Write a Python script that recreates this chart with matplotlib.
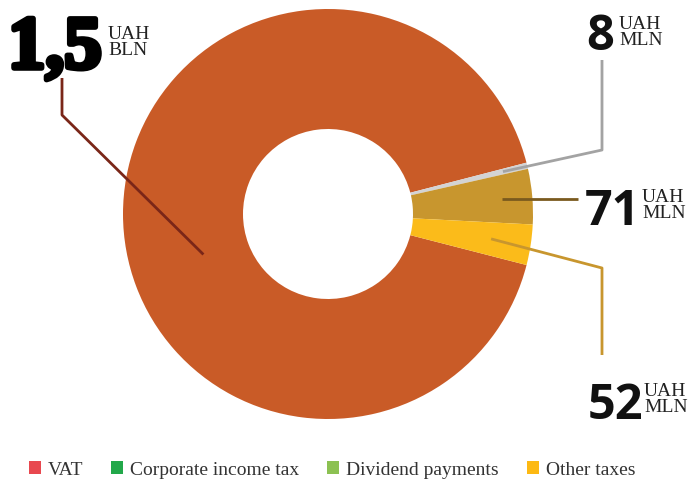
import numpy as np
import matplotlib
matplotlib.use("Agg")
import matplotlib.pyplot as plt
import matplotlib.patheffects as pe
from matplotlib.patches import Patch

# Tax payments, UAH million
slice_names = ["VAT", "Other (8)", "Other (71)", "Other (52)"]
slice_values = [1500, 8, 71, 52]
slice_colors = ["#c95b27", "#d3d3d3", "#c8962e", "#fbbb1a"]

value_labels = ["1,5", "8", "71", "52"]
unit_labels = ["UAH\nBLN", "UAH\nMLN", "UAH\nMLN", "UAH\nMLN"]
leader_colors = ["#7a2618", "#a3a3a3", "#7a5a1e", "#c8962e"]

legend_names = ["VAT", "Corporate income tax", "Dividend payments", "Other taxes"]
legend_colors = ["#e8484f", "#22a84a", "#8cc152", "#fdb913"]

W, H = 692, 482
fig = plt.figure(figsize=(W / 100, H / 100), dpi=100)
ax = fig.add_axes([0, 0, 1, 1])

cx, cy = 328, H - 214
R, r_in = 205, 85

total = sum(slice_values)
vat_angle = 360 * slice_values[0] / total
wedges, _ = ax.pie(slice_values, colors=slice_colors, startangle=14.5 + vat_angle,
                   counterclock=False, center=(cx, cy), radius=R,
                   wedgeprops=dict(width=R - r_in, linewidth=0))
ax.set_xlim(0, W)
ax.set_ylim(0, H)
ax.set_aspect("equal")
ax.axis("off")


def anchor(w, rad, ang=None):
    if ang is None:
        ang = (w.theta1 + w.theta2) / 2
    a = np.deg2rad(ang)
    return cx + rad * np.cos(a), cy + rad * np.sin(a)


def px(x, y):
    return x, H - y


lw = 2.0
# VAT leader
p0 = anchor(wedges[0], 131, 198)
xs, ys = zip(p0, px(62, 115), px(62, 78))
ax.plot(xs, ys, color=leader_colors[0], lw=lw, solid_capstyle="butt")
# 8
p1 = anchor(wedges[1], 180)
xs, ys = zip(p1, px(602, 150), px(602, 60))
ax.plot(xs, ys, color=leader_colors[1], lw=lw, solid_capstyle="butt")
# 71
p2 = anchor(wedges[2], 175)
xs, ys = zip(p2, (578, p2[1]))
ax.plot(xs, ys, color=leader_colors[2], lw=lw, solid_capstyle="butt")
# 52
p3 = anchor(wedges[3], 165)
xs, ys = zip(p3, px(602, 268), px(602, 355))
ax.plot(xs, ys, color=leader_colors[3], lw=lw, solid_capstyle="butt")

# Big value labels
ax.text(8, H - 68, value_labels[0], fontsize=54, family="Liberation Serif",
        weight="bold", color="black", ha="left", va="baseline",
        path_effects=[pe.withStroke(linewidth=4, foreground="black")])
num_kw = dict(fontsize=35, family="Open Sans", weight="bold", color="#111111",
              ha="left", va="baseline")
ax.text(586, H - 50, value_labels[1], **num_kw)
ax.text(585, H - 225, value_labels[2], **num_kw)
ax.text(588, H - 419, value_labels[3], **num_kw)

unit_kw = dict(fontsize=14, family="Liberation Serif", color="#222222",
               ha="left", va="top", linespacing=0.92)
ax.text(108, H - 26, unit_labels[0], **unit_kw)
ax.text(619, H - 16, unit_labels[1], **unit_kw)
ax.text(642, H - 189, unit_labels[2], **unit_kw)
ax.text(644, H - 383, unit_labels[3], **unit_kw)

handles = [Patch(facecolor=c, edgecolor="none") for c in legend_colors]
fig.legend(handles, legend_names, loc="center", bbox_to_anchor=(332 / W, 1 - 470 / H),
           ncol=4, frameon=False, handlelength=0.62, handleheight=0.62,
           handletextpad=0.35, columnspacing=1.45,
           prop=dict(family="Liberation Serif", size=14), labelcolor="#333333")

fig.savefig("out.png", dpi=100)
